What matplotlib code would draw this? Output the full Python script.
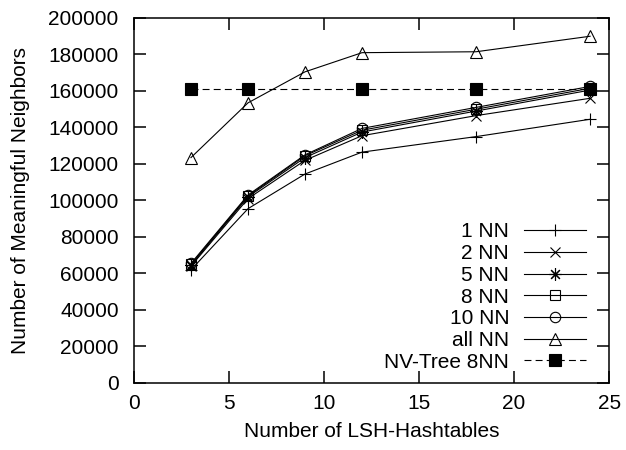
import matplotlib
matplotlib.use("Agg")
import matplotlib.pyplot as plt

plt.rcParams['font.family'] = ['Liberation Sans', 'DejaVu Sans']
plt.rcParams['lines.scale_dashes'] = False

x = [3, 6, 9, 12, 18, 24]
nn1 = [62000, 95500, 114500, 126500, 135000, 144500]
nn2 = [64000, 101000, 122000, 135500, 146500, 156000]
nn5 = [64500, 102000, 123500, 137500, 149000, 160500]
nn8 = [65000, 102500, 124500, 138500, 150000, 161500]
nn10 = [65500, 103000, 125000, 139500, 151000, 162500]
nn_all = [123500, 153500, 170500, 181000, 181500, 190000]
x_nv = [3, 6, 12, 18, 24]
nv_tree = [161000, 161000, 161000, 161000, 161000]

labels = ['1 NN', '2 NN', '5 NN', '8 NN', '10 NN', 'all NN', 'NV-Tree 8NN']

FS = 15

fig = plt.figure(figsize=(6.26, 4.5), dpi=100)
ax = fig.add_axes([0.214, 0.149, 0.759, 0.811])

lw = 0.8
common = dict(color='black', linewidth=lw, markeredgewidth=0.8)
ax.plot(x, nn1, marker='+', markersize=9, label=labels[0], **common)
ax.plot(x, nn2, marker='x', markersize=7, label=labels[1], **common)
ax.plot(x, nn5, marker=(8, 2, 0), markersize=9, label=labels[2], **common)
ax.plot(x, nn8, marker='s', markersize=7, markerfacecolor='none', label=labels[3], **common)
ax.plot(x, nn10, marker='o', markersize=7.5, markerfacecolor='none', label=labels[4], **common)
ax.plot(x, nn_all, marker='^', markersize=8, markerfacecolor='none', label=labels[5], **common)
ax.plot(x_nv, nv_tree, marker='s', markersize=8.5, markerfacecolor='black',
        dashes=(5, 3), label=labels[6], **common)

ax.set_xlim(0, 25)
ax.set_ylim(0, 200000)
ax.set_xticks([0, 5, 10, 15, 20, 25])
ax.set_yticks(range(0, 200001, 20000))
ax.tick_params(direction='in', length=8.5, width=1.1, top=True, right=True,
               labelsize=FS)
ax.tick_params(axis='x', pad=8)
ax.tick_params(axis='y', pad=11)
for s in ax.spines.values():
    s.set_linewidth(1.1)

ax.set_xlabel('Number of LSH-Hashtables', fontsize=FS, labelpad=6.5)
ax.set_ylabel('Number of Meaningful Neighbors', fontsize=FS, labelpad=13)

ax.legend(loc='lower right', bbox_to_anchor=(0.952, 0.031), markerfirst=False,
          frameon=False, fontsize=FS, handlelength=3.0, handletextpad=0.7,
          labelspacing=0.13, borderaxespad=0, borderpad=0)

fig.savefig('out.png', dpi=100)
